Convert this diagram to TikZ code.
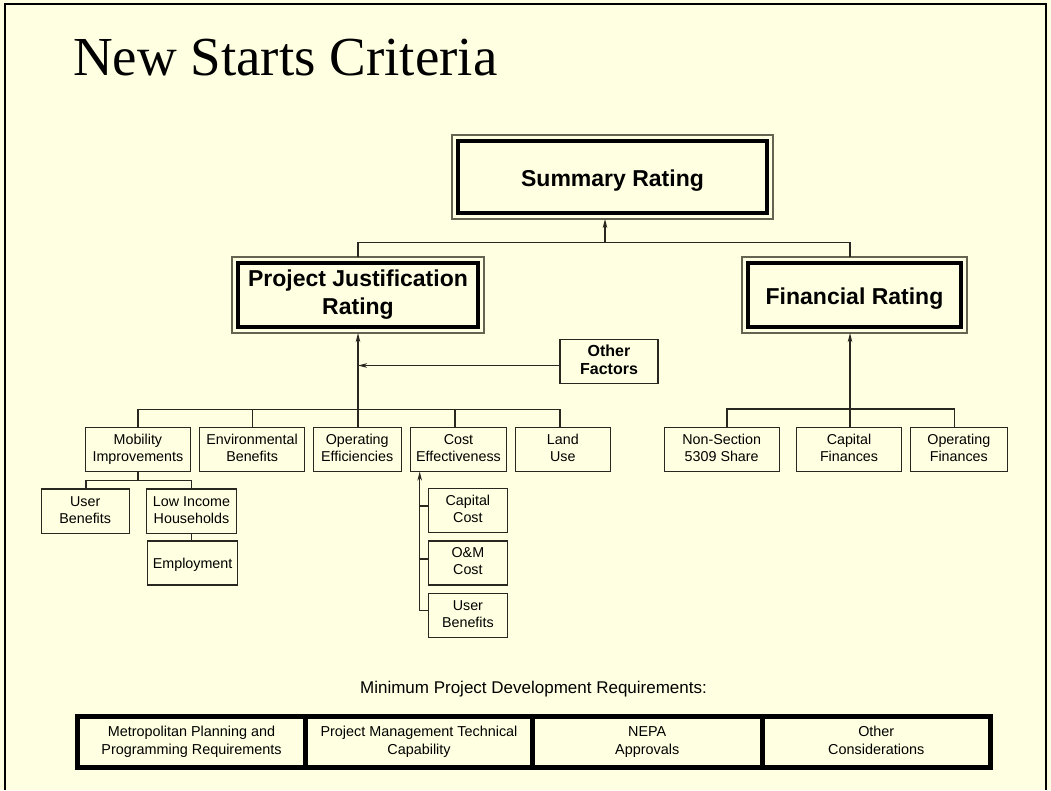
\documentclass[tikz,border=0pt]{standalone}
\usepackage{fontspec}
\setmainfont{Liberation Sans}
\newfontfamily\seriffont{Liberation Serif}
\usetikzlibrary{arrows.meta,calc}
\definecolor{bg}{RGB}{255,255,225}
\definecolor{ln}{RGB}{40,40,32}
\definecolor{edge}{RGB}{100,100,80}
\begin{document}
\begin{tikzpicture}[x=1pt,y=-1pt,
  every node/.style={inner sep=0pt, outer sep=0pt},
  struts/.style n args={2}{execute at begin node={\rule{0pt}{#1}}, execute at end node={\rule[-#2]{0pt}{#2}}},
  sub/.style={draw=ln, line width=1.1pt, align=center, font=\fontsize{14.3}{17}\selectfont, struts={14.1pt}{3.1pt}},
  rating/.style={draw=edge, line width=1.2pt, align=center, font=\fontsize{23}{28}\selectfont\bfseries, struts={23pt}{5pt}},
  conn/.style={draw=ln, line width=1.2pt},
  arr/.style={conn, -{Stealth[length=9pt,width=4.5pt,inset=2.5pt]}},
  req/.style={draw=black, line width=5pt, align=center, font=\fontsize{14.4}{18}\selectfont, minimum height=51pt, struts={13.5pt}{3.5pt}}
]
\useasboundingbox (0,0) rectangle (1051,790);
\fill[bg] (0,0) rectangle (1051,790);
\draw[line width=2pt] (5,790) -- (5,4) -- (1046,4) -- (1046,790);

% title
\node[anchor=base west, font=\seriffont\fontsize{55}{60}\selectfont] (title) at (73,75) {New Starts Criteria};

% rating boxes
\node[rating, minimum width=321pt, minimum height=84pt] (summ) at (612.5,177) {Summary Rating};
\node[rating, minimum width=252pt, minimum height=76pt] (pj) at (358,295) {Project Justification\\Rating};
\node[rating, minimum width=225pt, minimum height=76pt] (fin) at (854.5,295) {Financial Rating};
\foreach \n in {summ,pj,fin}
  \draw[line width=4.5pt] ([xshift=5.8pt,yshift=-5.8pt]\n.north west) rectangle ([xshift=-5.8pt,yshift=5.8pt]\n.south east);

\node[sub, minimum width=98pt, minimum height=44pt, font=\fontsize{16}{18.4}\selectfont\bfseries, struts={16pt}{3.6pt}] (other) at (609,361.3) {Other\\Factors};

% level 2 boxes
\node[sub, minimum width=105.4pt, minimum height=44pt] (mob) at (137.9,449.5) {Mobility\\Improvements};
\node[sub, minimum width=105.4pt, minimum height=44pt] (env) at (252.1,449.5) {Environmental\\Benefits};
\node[sub, minimum width=87.9pt, minimum height=44pt] (ope) at (357.2,449.5) {Operating\\Efficiencies};
\node[sub, minimum width=96.6pt, minimum height=44pt] (cost) at (458.5,449.5) {Cost\\Effectiveness};
\node[sub, minimum width=94.5pt, minimum height=44pt] (land) at (562.8,449.5) {Land\\Use};
\node[sub, minimum width=114.7pt, minimum height=44pt] (ns) at (721.7,449.5) {Non-Section\\5309 Share};
\node[sub, minimum width=105.4pt, minimum height=44pt] (capf) at (849,449.5) {Capital\\Finances};
\node[sub, minimum width=97pt, minimum height=44pt] (opf) at (958.8,449.5) {Operating\\Finances};

% mobility subs
\node[sub, minimum width=87.8pt, minimum height=44.5pt] (ub1) at (85.2,511.2) {User\\Benefits};
\node[sub, minimum width=90.2pt, minimum height=44.5pt] (lih) at (191.5,511.2) {Low Income\\Households};
\node[sub, minimum width=90.5pt, minimum height=44pt] (emp) at (192.6,563) {Employment};

% cost subs
\node[sub, minimum width=79.4pt, minimum height=44pt] (cc) at (467.9,510.5) {Capital\\Cost};
\node[sub, minimum width=79.4pt, minimum height=44pt] (om) at (467.9,563) {O\&M\\Cost};
\node[sub, minimum width=79.4pt, minimum height=44pt] (ub2) at (467.9,615.3) {User\\Benefits};

% coordinates for buses
\coordinate (b0) at (605,242.7);
\coordinate (fx) at (850,0);
\coordinate (t1) at (358,409.3);
\coordinate (lx) at (560,0);
\coordinate (cx) at (455,0);
\coordinate (b2) at (727,409);
\coordinate (fc3) at (954.3,0);
\coordinate (b3) at (85.9,480.5);
\coordinate (m2) at (191.3,0);
\coordinate (ctr) at (419.7,0);

% summary tree
\draw[conn] (pj.north) -- (pj.north |- b0) -- (fx |- b0) -- (fin.north -| fx);
\draw[arr] (b0) -- (summ.south -| b0);

% project justification tree
\draw[conn] (mob.north) -- (mob.north |- t1) -- (lx |- t1) -- (land.north -| lx);
\draw[conn] (env.north) -- (env.north |- t1);
\draw[conn] (cost.north -| cx) -- (cx |- t1);
\draw[arr] (ope.north -| t1) -- (pj.south -| t1);
\draw[arr] ([yshift=-4.2pt]other.west) -- ([yshift=-4.2pt]other.west -| t1);

% financial tree
\draw[conn] (ns.north -| b2) -- (b2) -- (fc3 |- b2) -- (opf.north -| fc3);
\draw[arr] (capf.north -| fx) -- (fin.south -| fx);

% mobility subtree
\draw[conn] (mob.south) -- (mob.south |- b3);
\draw[conn] (ub1.north -| b3) -- (b3) -- (m2 |- b3) -- (lih.north -| m2);
\draw[conn] (lih.south -| m2) -- (emp.north -| m2);

% cost subtree
\draw[arr] ([yshift=4.6pt]ub2.west) -| (cost.south -| ctr);
\draw[conn] ([yshift=4.5pt]cc.west) -- ([yshift=4.5pt]cc.west -| ctr);
\draw[conn] ([yshift=4pt]om.west) -- ([yshift=4pt]om.west -| ctr);

% minimum requirements
\node[font=\fontsize{17}{20}\selectfont] (minreq) at (533.5,689) {Minimum Project Development Requirements:};
\node[req, minimum width=228pt] (r1) at (191.5,742) {Metropolitan Planning and\\Programming Requirements};
\node[req, minimum width=227pt] (r2) at (419,742) {Project Management Technical\\Capability};
\node[req, minimum width=229.5pt] (r3) at (647.25,742) {NEPA\\Approvals};
\node[req, minimum width=228.5pt] (r4) at (876.25,742) {Other\\Considerations};
\end{tikzpicture}
\end{document}
